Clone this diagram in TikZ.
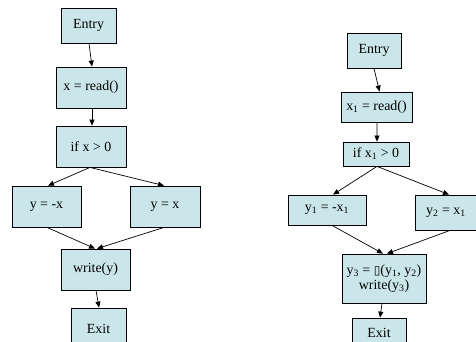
\documentclass[tikz,border=0pt]{standalone}
\usepackage{fontspec}
\setmainfont{Liberation Serif}
\newfontfamily\symfont{DejaVu Sans}
\usetikzlibrary{arrows.meta}
\definecolor{boxfill}{RGB}{202,230,234}
\tikzset{
  blk/.style={draw=black, line width=0.8bp, fill=boxfill, inner sep=1bp,
    font=\fontsize{14}{15}\selectfont, align=center},
  arr/.style={line width=0.7bp, -{Triangle[length=6bp,width=5bp]}}
}
\begin{document}
\begin{tikzpicture}[x=1bp,y=-1bp]
\useasboundingbox (0,0) rectangle (476,341);
% left graph
\node[blk, minimum width=55bp, minimum height=35bp] (e1) at (88.5,25.5) {Entry};
\node[blk, minimum width=70bp, minimum height=41bp] (r1) at (91,87.5) {x = read()};
\node[blk, minimum width=70bp, minimum height=41bp] (i1) at (91,146.5) {if x {>} 0};
\node[blk, minimum width=69bp, minimum height=41bp] (a1) at (46.5,206.5) {y = -x};
\node[blk, minimum width=70bp, minimum height=41bp] (b1) at (165,206.5) {y = x};
\node[blk, minimum width=69bp, minimum height=41bp] (w1) at (95.5,269.5) {write(y)};
\node[blk, minimum width=55bp, minimum height=41bp] (x1) at (98.5,328.5) {Exit};
\draw[arr] ([xshift=0.5bp]e1.south) -- ([xshift=1bp]r1.north);
\draw[arr] ([xshift=1bp]r1.south) -- ([xshift=1bp]i1.north);
\draw[arr] ([xshift=-1bp]i1.south) -- ([xshift=1.5bp]a1.north);
\draw[arr] ([xshift=-1bp]i1.south) -- ([xshift=-1bp]b1.north);
\draw[arr] ([xshift=0.5bp]a1.south) -- ([xshift=-0.5bp]w1.north);
\draw[arr] ([xshift=-1bp]b1.south) -- ([xshift=1.5bp]w1.north);
\draw[arr] ([xshift=0.5bp]w1.south) -- ([xshift=0.5bp]x1.north);
% right graph (SSA)
\node[blk, minimum width=54bp, minimum height=35bp] (e2) at (374,50.5) {Entry};
\node[blk, minimum width=71bp, minimum height=30bp] (r2) at (376.5,107) {x\textsubscript{1} = read()};
\node[blk, minimum width=66bp, minimum height=24bp] (i2) at (376,154) {if x\textsubscript{1} {>} 0};
\node[blk, minimum width=78bp, minimum height=30bp] (a2) at (327,210) {y\textsubscript{1} = -x\textsubscript{1}};
\node[blk, minimum width=62bp, minimum height=35bp] (b2) at (446,212.5) {y\textsubscript{2} = x\textsubscript{1}};
\node[blk, minimum width=84bp, minimum height=49bp] (y3) at (384,278.5) {y\textsubscript{3} = {\symfont\fontsize{12}{14}\selectfont ▯}(y\textsubscript{1}, y\textsubscript{2})\\write(y\textsubscript{3})};
\node[blk, minimum width=54bp, minimum height=30bp] (x2) at (379,333) {Exit};
\draw[arr] (e2.south) -- ([xshift=3bp]r2.north);
\draw[arr] ([xshift=0.5bp]r2.south) -- ([xshift=1bp]i2.north);
\draw[arr] ([xshift=1bp]i2.south) -- ([xshift=6bp]a2.north);
\draw[arr] ([xshift=1bp]i2.south) -- ([xshift=3bp]b2.north);
\draw[arr] ([xshift=5bp]a2.south) -- ([xshift=-1bp]y3.north);
\draw[arr] ([xshift=4bp]b2.south) -- ([xshift=3bp]y3.north);
\draw[arr] ([xshift=-2bp]y3.south) -- ([xshift=1bp]x2.north);
\end{tikzpicture}
\end{document}
